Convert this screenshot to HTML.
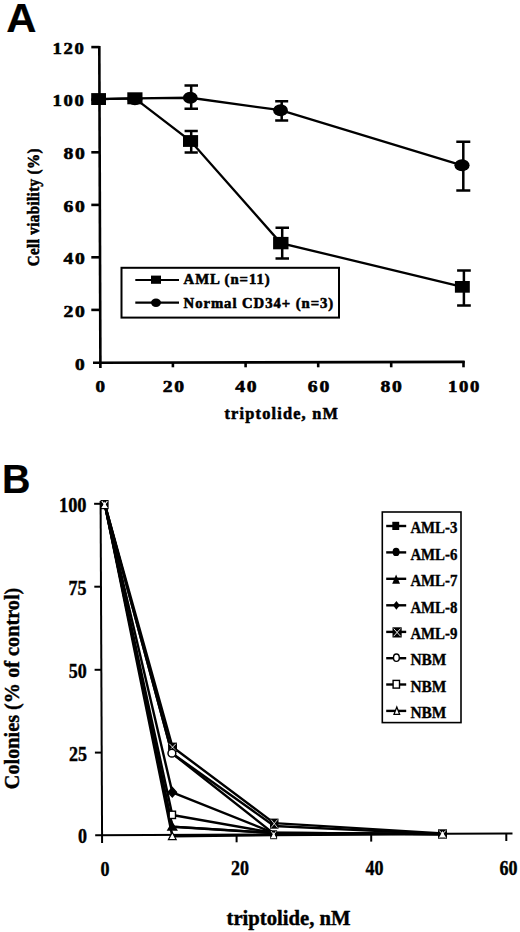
<!DOCTYPE html>
<html><head><meta charset="utf-8">
<style>
html,body{margin:0;padding:0;background:#fff;width:520px;height:932px;overflow:hidden}
svg{display:block}
text{font-family:"Liberation Serif",serif;font-weight:bold;fill:#000;stroke:#000;stroke-width:0.55px}
.sans{stroke-width:0.2px}
.b text{stroke-width:0.4px}
.b text.sans{stroke-width:0.2px}
.sans{font-family:"Liberation Sans",sans-serif}
</style></head><body>
<svg width="520" height="932" viewBox="0 0 520 932">
<!-- ================= PANEL A ================= -->
<text class="sans" x="6.2" y="31.9" font-size="40.5" textLength="30.2" lengthAdjust="spacingAndGlyphs">A</text>

<g stroke="#000" stroke-width="2.6" fill="none" stroke-linecap="butt">
  <!-- y axis -->
  <line x1="99.3" y1="46" x2="100.4" y2="368"/>
  <!-- y ticks -->
  <line x1="91.3" y1="47.1" x2="99.5" y2="47.1"/>
  <line x1="91.3" y1="99.7" x2="99.7" y2="99.7"/>
  <line x1="91.3" y1="152.3" x2="99.8" y2="152.3"/>
  <line x1="91.3" y1="204.9" x2="100" y2="204.9"/>
  <line x1="91.3" y1="257.3" x2="100" y2="257.3"/>
  <line x1="91.3" y1="309.9" x2="100" y2="309.9"/>
  <!-- x axis -->
  <line x1="93" y1="362.8" x2="464.6" y2="361.9"/>
  <!-- x ticks -->
  <line x1="172.9" y1="362" x2="172.9" y2="367.3"/>
  <line x1="245.6" y1="362" x2="245.6" y2="367.3"/>
  <line x1="318.2" y1="362" x2="318.2" y2="367.3"/>
  <line x1="391.2" y1="362" x2="391.2" y2="367.3"/>
  <line x1="463.5" y1="361" x2="463.5" y2="367.3"/>
</g>

<g stroke="#000" stroke-width="2.3" fill="none">
  <polyline points="98.6,99.05 134.9,98.3 190.6,141 280.8,243.1 462.35,286.9"/>
  <polyline points="98.6,99.05 134.9,98.3 190.3,97.75 280.5,110.2 462,165.3"/>
  <!-- error bars -->
  <g stroke-width="2.5">
  <path d="M191.2,131.1V152.4 M184.6,131.1H197.8 M184.6,152.4H197.8"/>
  <path d="M282.2,227.8V258.6 M275.5,227.8H289 M275.5,258.6H289"/>
  <path d="M463.9,270.4V305.4 M457.1,270.4H470.8 M457.1,305.4H470.8"/>
  <path d="M191.2,85.5V108.7 M184.5,85.5H198 M184.5,108.7H198"/>
  <path d="M281.7,101.2V120.6 M275.2,101.2H288.2 M275.2,120.6H288.2"/>
  <path d="M463.3,141.7V190.4 M456.3,141.7H470.3 M456.3,190.4H470.3"/>
  </g>
</g>
<g fill="#000">
  <ellipse cx="134.9" cy="99.2" rx="7.5" ry="6"/>
  <ellipse cx="190.3" cy="97.75" rx="7.4" ry="6"/>
  <ellipse cx="280.5" cy="110.2" rx="7.4" ry="6"/>
  <ellipse cx="462" cy="165.3" rx="7.6" ry="6"/>
  <rect x="91.2" y="93.1" width="14.8" height="11.9"/>
  <rect x="127.3" y="92.3" width="15.2" height="12"/>
  <rect x="183" y="135.1" width="15.1" height="11.8"/>
  <rect x="273.1" y="236.9" width="15.4" height="12.4"/>
  <rect x="454.9" y="281" width="14.9" height="11.7"/>
</g>

<!-- legend A -->
<rect x="121.5" y="267.8" width="217.5" height="49.8" fill="none" stroke="#000" stroke-width="2"/>
<g stroke="#000" stroke-width="2.2">
  <line x1="135.3" y1="280" x2="179" y2="280"/>
  <line x1="135.3" y1="302.7" x2="179" y2="302.7"/>
</g>
<rect x="151" y="275.6" width="10" height="8.2" fill="#000"/>
<ellipse cx="156" cy="302.7" rx="5" ry="4.2" fill="#000"/>
<text x="183.6" y="284.4" font-size="14.1" textLength="87" lengthAdjust="spacingAndGlyphs" letter-spacing="0.9">AML (n=11)</text>
<text x="183.6" y="307.5" font-size="14.1" textLength="150.5" lengthAdjust="spacingAndGlyphs" letter-spacing="0.9">Normal CD34+ (n=3)</text>

<!-- y tick labels A -->
<g font-size="16" text-anchor="end" letter-spacing="1.4">
  <text x="85.6" y="53.5" textLength="33" lengthAdjust="spacingAndGlyphs">120</text>
  <text x="85.6" y="106.2" textLength="33" lengthAdjust="spacingAndGlyphs">100</text>
  <text x="86.5" y="158.9" textLength="23.1" lengthAdjust="spacingAndGlyphs">80</text>
  <text x="86.5" y="211.8" textLength="23.1" lengthAdjust="spacingAndGlyphs">60</text>
  <text x="86.5" y="264.3" textLength="23.1" lengthAdjust="spacingAndGlyphs">40</text>
  <text x="86.5" y="317" textLength="23.1" lengthAdjust="spacingAndGlyphs">20</text>
  <text x="86.4" y="369.8" textLength="11.4" lengthAdjust="spacingAndGlyphs">0</text>
</g>
<!-- x tick labels A -->
<g font-size="16" text-anchor="middle" letter-spacing="1.4">
  <text x="101.2" y="392.1" textLength="11.2" lengthAdjust="spacingAndGlyphs">0</text>
  <text x="174.2" y="392.1" textLength="23.1" lengthAdjust="spacingAndGlyphs">20</text>
  <text x="246.8" y="392.1" textLength="23.1" lengthAdjust="spacingAndGlyphs">40</text>
  <text x="319.4" y="392.1" textLength="23.1" lengthAdjust="spacingAndGlyphs">60</text>
  <text x="392" y="392.1" textLength="23.1" lengthAdjust="spacingAndGlyphs">80</text>
  <text x="464.5" y="392.1" textLength="33" lengthAdjust="spacingAndGlyphs">100</text>
</g>
<text x="224.5" y="418.5" font-size="16.5" textLength="114.5" lengthAdjust="spacingAndGlyphs" letter-spacing="1.2">triptolide, nM</text>
<text transform="translate(39.1,266.2) rotate(-90)" x="0" y="0" font-size="15.8" textLength="118" lengthAdjust="spacingAndGlyphs" letter-spacing="0.4">Cell viability (%)</text>

<!-- ================= PANEL B ================= -->
<g class="b">
<text class="sans" x="2" y="492.7" font-size="41.5" textLength="28.5" lengthAdjust="spacingAndGlyphs">B</text>

<g stroke="#000" stroke-width="2" fill="none">
  <line x1="100.6" y1="501" x2="102.1" y2="843"/>
  <line x1="94.1" y1="503.8" x2="100.8" y2="503.8"/>
  <line x1="94.3" y1="586.7" x2="101.1" y2="586.7"/>
  <line x1="94.6" y1="669.8" x2="101.5" y2="669.8"/>
  <line x1="94.9" y1="752.6" x2="101.8" y2="752.6"/>
  <line x1="95.2" y1="835.2" x2="512.5" y2="833.5"/>
  <line x1="236.6" y1="834.6" x2="236.6" y2="842.3"/>
  <line x1="371.2" y1="834" x2="371.2" y2="841.6"/>
  <line x1="506.3" y1="833.5" x2="506.3" y2="841"/>
</g>

<!-- data lines B -->
<g stroke="#000" stroke-width="2.4" fill="none" stroke-linejoin="round">
  <polyline points="104.7,503.8 172.3,826.6 273.5,833 442.7,834.1"/>
  <polyline points="104.7,503.8 171.9,753.2 273.5,833.4 442.7,834.1"/>
  <polyline points="104.7,503.8 172.3,826.8 273.5,833 442.7,834.1"/>
  <polyline points="104.7,503.8 172.3,792.3 273.5,832.8 442.7,834.1"/>
  <polyline points="104.7,503.8 172.5,747 274.2,823.1 442.7,833.4"/>
  <polyline points="104.7,503.8 171.9,753.2 274.2,826 442.7,834.1"/>
  <polyline points="104.7,503.8 172.3,815 273.5,832.8 442.7,834.1"/>
  <polyline points="104.7,503.8 172.3,836.2 274,835 442.7,834.1"/>
</g>
<!-- markers B -->
<g stroke="#000" stroke-width="1.3">
  <!-- x=0 stack -->
  <rect x="100.6" y="500" width="8" height="9.2" fill="#000" stroke="none"/>
  <path d="M101.8,501.2 L107.4,508 M107.4,501.2 L101.8,508" stroke="#fff" stroke-width="1.1"/>
  <path d="M104.6,501.6 L107.3,508 L101.9,508Z" fill="#fff" stroke="none"/>
  <!-- x=10 -->
  <rect x="168.1" y="742.6" width="8.9" height="9.2" fill="#000" stroke="none"/>
  <path d="M169.2,743.7 L175.9,750.7 M175.9,743.7 L169.2,750.7" stroke="#fff" stroke-width="0.9"/>
  <circle cx="171.9" cy="753.2" r="3.9" fill="#fff" stroke-width="1.5"/>
  <path d="M172.3,787.5 L176.6,792.3 L172.3,797.1 L168,792.3Z" fill="#000"/>
  <rect x="169.2" y="811.2" width="6.3" height="7.3" fill="#fff" stroke-width="1.4"/>
  <path d="M172.3,822.5 L176.8,830 L167.8,830Z" fill="#000"/>
  <path d="M172.3,832.2 L176.2,839.6 L168.4,839.6Z" fill="#fff" stroke-width="1.2"/>
  <!-- x=25 -->
  <rect x="270" y="818.6" width="8.5" height="10.1" fill="#000" stroke="none"/>
  <path d="M271,819.6 L277.5,827.7 M277.5,819.6 L271,827.7" stroke="#fff" stroke-width="0.8"/>
  <rect x="270.2" y="830.3" width="6.9" height="8.9" fill="#000" stroke="none"/>
  <path d="M271.2,831.2 L276.1,838.2 M276.1,831.2 L271.2,838.2" stroke="#fff" stroke-width="0.9"/>
  <path d="M273.65,832 L276.2,838.2 L271.1,838.2Z" fill="#fff" stroke="none"/>
  <!-- x=50 -->
  <rect x="438" y="829.3" width="9" height="9.4" fill="#000" stroke="none"/>
  <path d="M439.2,830.5 L445.8,837.6 M445.8,830.5 L439.2,837.6" stroke="#fff" stroke-width="1"/>
  <path d="M442.5,831 L445.6,837.6 L439.4,837.6Z" fill="#fff" stroke="none"/>
</g>

<!-- legend B -->
<rect x="382.3" y="512" width="78.7" height="210.6" fill="none" stroke="#000" stroke-width="1.6"/>
<g stroke="#000" stroke-width="2.4">
  <line x1="386.2" y1="526" x2="406.2" y2="526"/>
  <line x1="386.2" y1="552.4" x2="406.2" y2="552.4"/>
  <line x1="386.2" y1="578.8" x2="406.2" y2="578.8"/>
  <line x1="386.2" y1="605.3" x2="406.2" y2="605.3"/>
  <line x1="386.2" y1="631.9" x2="406.2" y2="631.9"/>
  <line x1="386.2" y1="658.2" x2="406.2" y2="658.2"/>
  <line x1="386.2" y1="684.5" x2="406.2" y2="684.5"/>
  <line x1="386.2" y1="710.9" x2="406.2" y2="710.9"/>
</g>
<g stroke="#000" stroke-width="1.3">
  <rect x="392.3" y="521.8" width="6.9" height="8.2" fill="#000" stroke="none"/>
  <ellipse cx="396.1" cy="551.9" rx="3.5" ry="4.2" fill="#000" stroke="none"/>
  <path d="M396.1,574.4 L400,583.8 L392.2,583.8Z" fill="#000" stroke="none"/>
  <path d="M396.4,601 L399.8,605.3 L396.4,609.7 L393,605.3Z" fill="#000" stroke="none"/>
  <rect x="392.5" y="627.3" width="9.2" height="10.2" fill="#000" stroke="none"/>
  <path d="M393.7,628.6 L400.5,636.2 M400.5,628.6 L393.7,636.2" stroke="#fff" stroke-width="0.9"/>
  <ellipse cx="396.4" cy="657.7" rx="2.9" ry="3.7" fill="#fff" stroke-width="1.4"/>
  <rect x="393.1" y="680.4" width="6.4" height="7.7" fill="#fff" stroke-width="1.4"/>
  <path d="M396.8,707 L399.6,714.3 L394,714.3Z" fill="#fff" stroke-width="1.3"/>
</g>
<g font-size="17.5">
  <text x="410.4" y="533.3" textLength="47" lengthAdjust="spacingAndGlyphs">AML-3</text>
  <text x="410.4" y="559.7" textLength="47" lengthAdjust="spacingAndGlyphs">AML-6</text>
  <text x="410.4" y="586.1" textLength="47" lengthAdjust="spacingAndGlyphs">AML-7</text>
  <text x="410.4" y="612.5" textLength="47" lengthAdjust="spacingAndGlyphs">AML-8</text>
  <text x="410.4" y="638.9" textLength="47" lengthAdjust="spacingAndGlyphs">AML-9</text>
  <text x="410.4" y="665.4" textLength="36" lengthAdjust="spacingAndGlyphs">NBM</text>
  <text x="410.4" y="691.8" textLength="36" lengthAdjust="spacingAndGlyphs">NBM</text>
  <text x="410.4" y="718.2" textLength="36" lengthAdjust="spacingAndGlyphs">NBM</text>
</g>

<!-- y tick labels B -->
<g font-size="20" text-anchor="end">
  <text x="86.5" y="512.2" textLength="27.5" lengthAdjust="spacingAndGlyphs">100</text>
  <text x="86.5" y="595.1" textLength="18" lengthAdjust="spacingAndGlyphs">75</text>
  <text x="86.7" y="678.2" textLength="18" lengthAdjust="spacingAndGlyphs">50</text>
  <text x="86.9" y="761.1" textLength="18" lengthAdjust="spacingAndGlyphs">25</text>
  <text x="87.1" y="843.4" textLength="9" lengthAdjust="spacingAndGlyphs">0</text>
</g>
<g font-size="20" text-anchor="middle">
  <text x="105" y="875.5" textLength="9" lengthAdjust="spacingAndGlyphs">0</text>
  <text x="240" y="875.4" textLength="18" lengthAdjust="spacingAndGlyphs">20</text>
  <text x="374.5" y="875.4" textLength="18" lengthAdjust="spacingAndGlyphs">40</text>
  <text x="508.5" y="875.4" textLength="18" lengthAdjust="spacingAndGlyphs">60</text>
</g>
<text x="226.5" y="924.6" font-size="20" textLength="124" lengthAdjust="spacingAndGlyphs">triptolide, nM</text>
<text transform="translate(18.9,789.2) rotate(-90)" x="0" y="0" font-size="20" textLength="201.5" lengthAdjust="spacingAndGlyphs">Colonies (% of control)</text>
</g>
</svg>
</body></html>
